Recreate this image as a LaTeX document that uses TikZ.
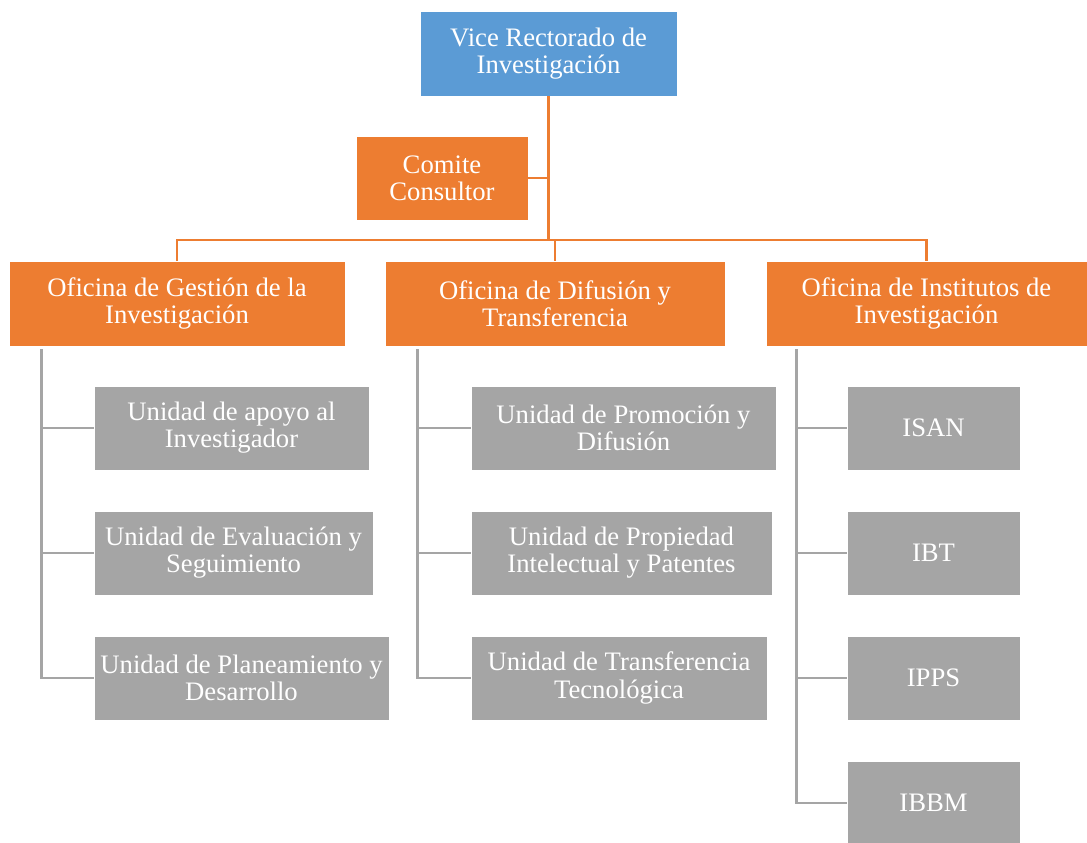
\documentclass[tikz,border=0pt]{standalone}
\usepackage{fontspec}
\setmainfont{Liberation Serif}
\usetikzlibrary{calc}
\definecolor{vblue}{HTML}{5B9BD5}
\definecolor{vorange}{HTML}{ED7D31}
\definecolor{vgray}{HTML}{A5A5A5}
\begin{document}
\begin{tikzpicture}[x=0.75pt,y=-0.75pt,
  box/.style={rectangle,draw=white,line width=0.6pt,text=white,align=center,inner sep=0pt,
    font=\fontsize{20}{20.3}\selectfont},
  bbox/.style={box,fill=vblue},
  obox/.style={box,fill=vorange},
  gbox/.style={box,fill=vgray},
  oline/.style={draw=vorange,line width=2pt},
  gline/.style={draw=vgray,line width=2pt}]
\useasboundingbox (0,0) rectangle (1087,842);
% top
\node[bbox,minimum width=257*0.75pt,minimum height=85*0.75pt] (vr) at (548.5,53.5) {Vice Rectorado de\\Investigación};
\node[obox,minimum width=172*0.75pt,minimum height=84*0.75pt] (cc) at (442,178) {Comite\\Consultor};
% offices
\node[obox,minimum width=336*0.75pt,minimum height=85*0.75pt] (o1) at (177,303.5) {Oficina de Gestión de la\\Investigación};
\node[obox,minimum width=340*0.75pt,minimum height=85*0.75pt] (o2) at (555,303.5) {Oficina de Difusión y\\Transferencia};
\node[obox,minimum width=321*0.75pt,minimum height=85*0.75pt] (o3) at (926.5,303.5) {Oficina de Institutos de\\Investigación};
% units office 1
\node[gbox,minimum width=275*0.75pt,minimum height=84*0.75pt] (u1) at (231.5,428) {Unidad de apoyo al\\Investigador};
\node[gbox,minimum width=279*0.75pt,minimum height=84*0.75pt] (u2) at (233.5,553) {Unidad de Evaluación y\\Seguimiento};
\node[gbox,minimum width=295*0.75pt,minimum height=84*0.75pt] (u3) at (241.5,678) {Unidad de Planeamiento y\\Desarrollo};
% units office 2
\node[gbox,minimum width=305*0.75pt,minimum height=84*0.75pt] (v1) at (623.5,428) {Unidad de Promoción y\\Difusión};
\node[gbox,minimum width=301*0.75pt,minimum height=84*0.75pt] (v2) at (621.5,553) {Unidad de Propiedad\\Intelectual y Patentes};
\node[gbox,minimum width=296*0.75pt,minimum height=84*0.75pt] (v3) at (619,678) {Unidad de Transferencia\\Tecnológica};
% institutes
\node[gbox,minimum width=173*0.75pt,minimum height=84*0.75pt] (w1) at (933.5,428) {ISAN};
\node[gbox,minimum width=173*0.75pt,minimum height=84*0.75pt] (w2) at (933.5,553) {IBT};
\node[gbox,minimum width=173*0.75pt,minimum height=84*0.75pt] (w3) at (933.5,678) {IPPS};
\node[gbox,minimum width=173*0.75pt,minimum height=84*0.75pt] (w4) at (933.5,803) {IBBM};
% orange connectors
\coordinate (bar) at (548.5,240);
\draw[oline] (vr.south) -- (bar);
\draw[oline] (cc.east) -- (cc.east -| vr.south);
\draw[oline] (o1.north) |- (bar) -| (o3.north);
\draw[oline] (o2.north) -- (o2.north |- bar);
% gray connectors
\coordinate (t1) at ($(o1.south west)+(33,3)$);
\coordinate (t2) at ($(o2.south west)+(33,3)$);
\coordinate (t3) at ($(o3.south west)+(31,3)$);
\draw[gline] (t1) |- (u3.west);
\draw[gline] (u1.west) -- (u1.west -| t1);
\draw[gline] (u2.west) -- (u2.west -| t1);
\draw[gline] (t2) |- (v3.west);
\draw[gline] (v1.west) -- (v1.west -| t2);
\draw[gline] (v2.west) -- (v2.west -| t2);
\draw[gline] (t3) |- (w4.west);
\draw[gline] (w1.west) -- (w1.west -| t3);
\draw[gline] (w2.west) -- (w2.west -| t3);
\draw[gline] (w3.west) -- (w3.west -| t3);
\end{tikzpicture}
\end{document}
